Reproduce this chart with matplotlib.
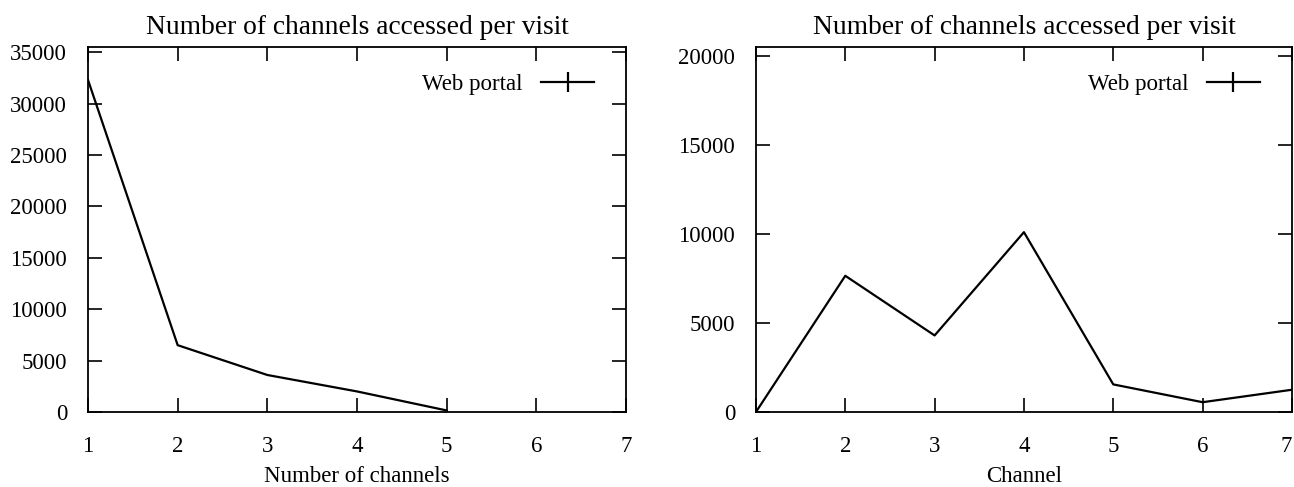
"""
Number of channels accessed per visit - two gnuplot-style line panels
"""
import matplotlib
matplotlib.use('Agg')
import matplotlib.pyplot as plt
from matplotlib.lines import Line2D

plt.rcParams['font.family'] = ['Liberation Serif', 'DejaVu Serif']

# left panel: visits by number of channels accessed
n_channels = [1, 2, 3, 4, 5]
visits_by_count = [32300, 6500, 3600, 2000, 150]

# right panel: visits by channel
channel = [1, 2, 3, 4, 5, 6, 7]
visits_by_channel = [0, 7650, 4300, 10100, 1550, 550, 1250]

series_label = 'Web portal'
title = 'Number of channels accessed per visit'
xticks = [1, 2, 3, 4, 5, 6, 7]
left_yticks = [0, 5000, 10000, 15000, 20000, 25000, 30000, 35000]
right_yticks = [0, 5000, 10000, 15000, 20000]

fig = plt.figure(figsize=(12.94, 4.87), dpi=100)
ax1 = fig.add_axes([0.068, 0.154, 0.4158, 0.7495])
ax2 = fig.add_axes([0.5842, 0.154, 0.4142, 0.7495])


def style(ax, x, y, yticks, ylim, xlabel):
    ax.plot(x, y, color='black', linewidth=1.6)
    ax.set_xlim(1, 7)
    ax.set_ylim(*ylim)
    ax.set_xticks(xticks)
    ax.set_yticks(yticks)
    ax.tick_params(axis='both', direction='in', length=10, width=1.2,
                   labelsize=16.5, top=True, right=True)
    ax.tick_params(axis='y', pad=15)
    ax.tick_params(axis='x', pad=17)
    for sp in ax.spines.values():
        sp.set_linewidth(1.3)
    ax.set_title(title, fontsize=19.8, pad=9)
    ax.set_xlabel(xlabel, fontsize=16.5, labelpad=7)
    handle = Line2D([], [], color='black', linewidth=1.6, marker='|',
                    markersize=15, markeredgewidth=1.6)
    ax.legend([handle], [series_label], loc='upper right',
              bbox_to_anchor=(1, 1.014), frameon=False,
              markerfirst=False, fontsize=16.5, handlelength=2.3,
              numpoints=1, borderaxespad=1.0, handletextpad=0.8)


style(ax1, n_channels, visits_by_count, left_yticks, (0, 35500),
      'Number of channels')
style(ax2, channel, visits_by_channel, right_yticks, (0, 20500), 'Channel')

# the last channel label sits against the figure edge
ax2.get_xticklabels()[-1].set_horizontalalignment('right')

plt.savefig('out.png', dpi=100)
plt.close()
